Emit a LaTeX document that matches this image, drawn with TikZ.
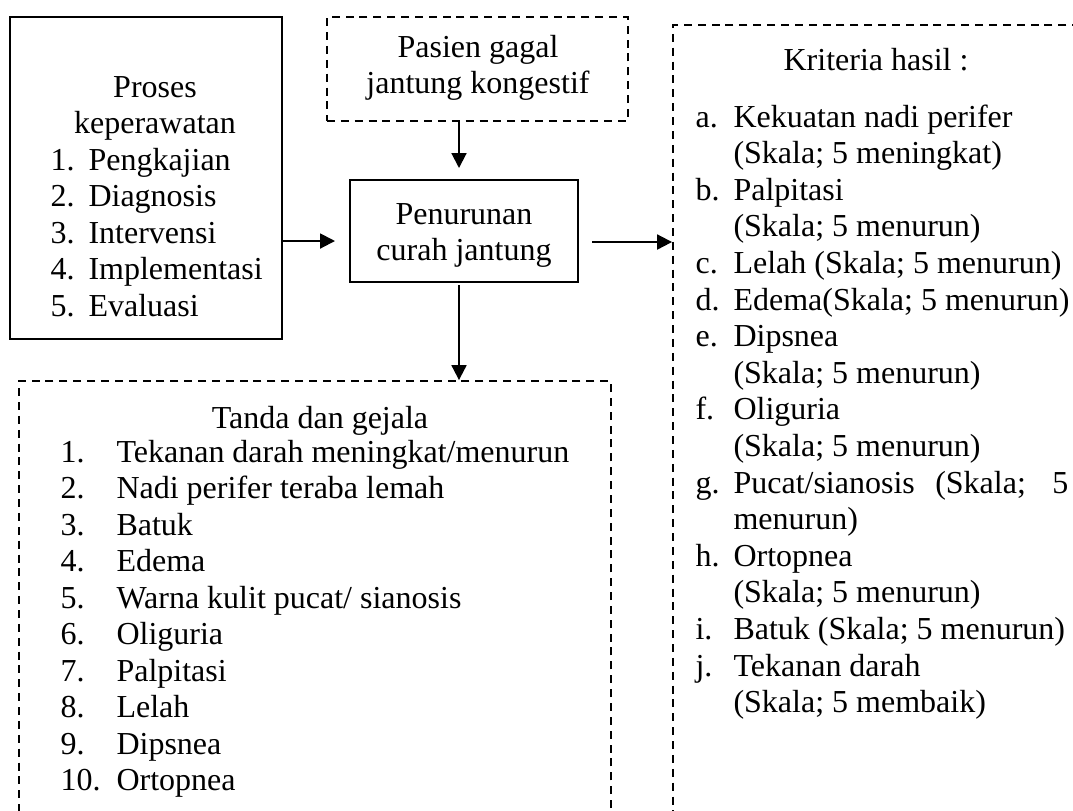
\documentclass[tikz,border=0pt]{standalone}
\usepackage{fontspec}
\setmainfont{Liberation Serif}
\usetikzlibrary{arrows.meta,fit}
\tikzset{
  solidbox/.style={draw, line width=0.75pt, inner sep=0pt},
  dashbox/.style={draw, line width=0.7pt, dash pattern=on 3pt off 2.2pt, inner sep=0pt},
  txt/.style={inner sep=0pt, font=\fontsize{12pt}{13.7pt}\selectfont},
  arr/.style={-{Triangle[length=5.6pt,width=5.6pt]}, line width=0.75pt}
}
\begin{document}
\begin{tikzpicture}[x=0.375pt, y=-0.375pt]
  \useasboundingbox (0,0) rectangle (1073,810);
  \clip (0,0) rectangle (1073,810);
  % boxes
  \node[solidbox, fit={(10,17) (282,339)}] (proses) {};
  \node[dashbox, fit={(327,17) (628,121)}] (pasien) {};
  \node[solidbox, fit={(350,180) (578,282)}] (turun) {};
  \node[dashbox, fit={(19,381) (611,840)}] (tanda) {};
  \node[dashbox, fit={(673,25) (1100,840)}] (kriteria) {};
  % left box
  \node[txt, anchor=base] (proses1) at (155,97) {Proses};
  \node[txt, anchor=base] (proses2) at (155,133.5) {keperawatan};
  \foreach \i/\lab in {1/Pengkajian,2/Diagnosis,3/Intervensi,4/Implementasi,5/Evaluasi}
  {
    \node[txt, anchor=base west] (pn\i) at (50,{170+36.5*(\i-1)}) {\i.};
    \node[txt, anchor=base west] (pt\i) at (88,{170+36.5*(\i-1)}) {\lab};
  }
  % top and middle
  \node[txt, anchor=base] (pasien1) at (478,57) {Pasien gagal};
  \node[txt, anchor=base] (pasien2) at (478,93.5) {jantung kongestif};
  \node[txt, anchor=base] (turun1) at (464,224) {Penurunan};
  \node[txt, anchor=base] (turun2) at (464,260.5) {curah jantung};
  % bottom box
  \node[txt, anchor=base] (tanda0) at (320,428) {Tanda dan gejala};
  \foreach \lab [count=\i] in {{Tekanan darah meningkat/menurun},{Nadi perifer teraba lemah},
      {Batuk},{Edema},{Warna kulit pucat/ sianosis},{Oliguria},{Palpitasi},{Lelah},
      {Dipsnea},{Ortopnea}}
  {
    \node[txt, anchor=base west] (tn\i) at (60,{462+36.5*(\i-1)}) {\i.};
    \node[txt, anchor=base west] (tt\i) at (116,{462+36.5*(\i-1)}) {\lab};
  }
  % right box
  \node[txt, anchor=base] (kriteria0) at (876,70) {Kriteria hasil :};
  \foreach \nm/\k in {a/1,b/3,c/5,d/6,e/7,f/9,g/11,h/13,i/15,j/16}
    \node[txt, anchor=base west] (kl\nm) at (695,{127+36.6*(\k-1)}) {\nm.};
  \foreach \lab [count=\k] in {{Kekuatan nadi perifer},{(Skala; 5 meningkat)},
      {Palpitasi},{(Skala; 5 menurun)},{Lelah (Skala; 5 menurun)},
      {Edema(Skala; 5 menurun)},{Dipsnea},{(Skala; 5 menurun)},{Oliguria},
      {(Skala; 5 menurun)},{\makebox[125.6pt][s]{Pucat/sianosis (Skala; 5}},
      {menurun)},{Ortopnea},{(Skala; 5 menurun)},{Batuk (Skala; 5 menurun)},
      {Tekanan darah},{(Skala; 5 membaik)}}
    \node[txt, anchor=base west] (kt\k) at (733,{127+36.6*(\k-1)}) {\lab};
  % connectors
  \coordinate (a1) at (335,241);
  \coordinate (a2) at (592,242);
  \coordinate (a3) at (459,168);
  \coordinate (a4) at (459,285);
  \draw[arr] (proses.east |- a1) -- (a1);
  \draw[arr] (a2) -- (kriteria.west |- a2);
  \draw[arr] (pasien.south -| a3) -- (a3);
  \draw[arr] (a4) -- (tanda.north -| a4);
\end{tikzpicture}
\end{document}
